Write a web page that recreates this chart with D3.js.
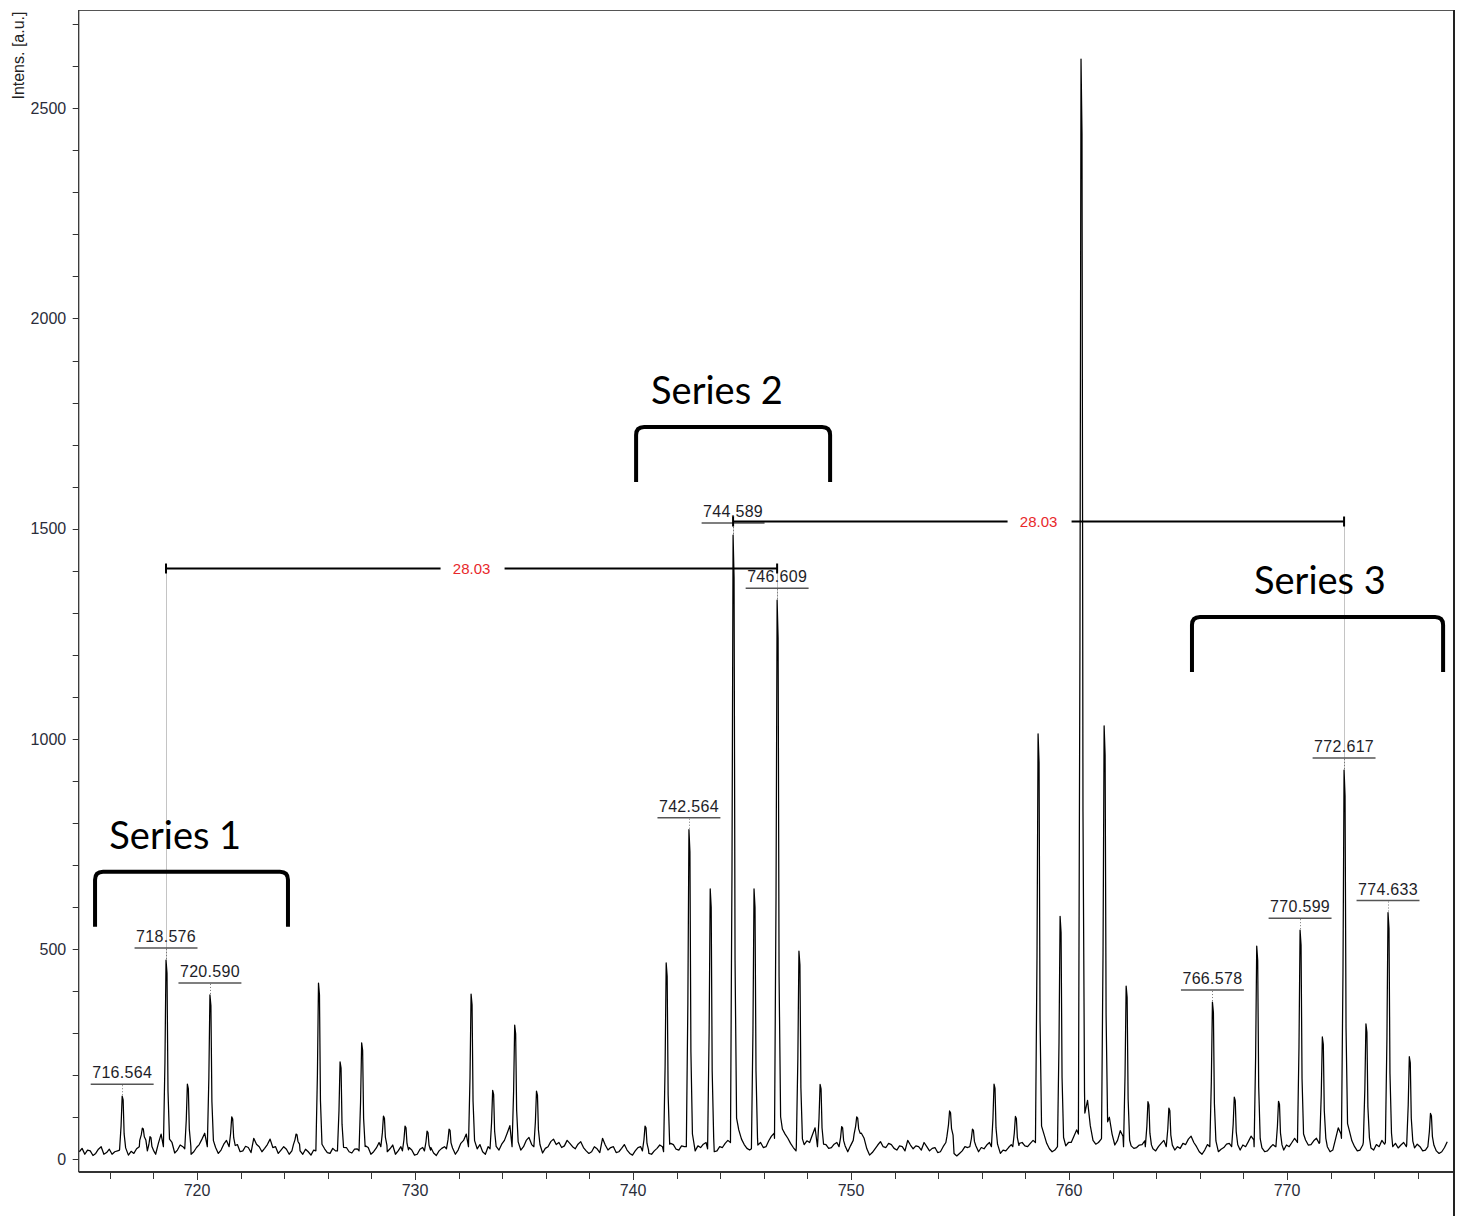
<!DOCTYPE html>
<html>
<head>
<meta charset="utf-8">
<script src="https://cdn.jsdelivr.net/npm/d3@7/dist/d3.min.js"></script>
<style>
  body { margin: 0; background: #fff; }
  svg { display: block; font-family: "Liberation Sans", Arial, sans-serif; }
</style>
</head>
<body>
<script>
// baseline / noise of the spectrum, one value every 0.125 m/z starting at 714.6
const BASE_START = 714.6;
const BASE_STEP = 0.125;
const baseline = [
  18, 26, 12, 22, 20, 9, 14, 24, 30, 12, 16, 24, 12, 18, 20, 11,
  22, 14, 10, 19, 14, 25, 30, 45, 40, 28, 20, 8, 12, 38, 60, 48,
  30, 20, 40, 15, 22, 34, 30, 20, 25, 12, 18, 28, 35, 48, 62, 55,
  30, 38, 28, 14, 22, 36, 45, 33, 30, 44, 35, 18, 20, 31, 28, 16,
  50, 36, 30, 18, 26, 35, 48, 28, 30, 14, 22, 30, 24, 12, 20, 27,
  35, 20, 12, 24, 18, 10, 22, 30, 20, 33, 25, 16, 14, 26, 20, 12,
  20, 10, 28, 18, 15, 24, 25, 14, 20, 32, 28, 12, 18, 27, 40, 28,
  30, 18, 25, 34, 12, 20, 30, 16, 20, 28, 22, 10, 12, 24, 28, 15,
  20, 28, 15, 9, 20, 26, 30, 18, 25, 34, 12, 22, 38, 45, 60, 50,
  30, 20, 25, 35, 18, 12, 30, 24, 25, 16, 22, 36, 45, 62, 80, 70,
  30, 40, 22, 30, 45, 52, 35, 24, 30, 20, 15, 26, 30, 42, 48, 35,
  40, 28, 32, 45, 38, 30, 25, 36, 42, 28, 20, 14, 18, 30, 25, 16,
  50, 34, 22, 28, 30, 16, 18, 26, 35, 22, 14, 10, 20, 28, 30, 18,
  20, 14, 12, 20, 26, 34, 30, 18, 25, 38, 35, 24, 22, 32, 30, 20,
  30, 16, 20, 32, 28, 36, 40, 26, 25, 18, 20, 30, 28, 38, 45, 36,
  40, 58, 70, 48, 35, 26, 22, 30, 25, 34, 40, 28, 30, 44, 55, 62,
  50, 66, 72, 60, 50, 38, 28, 20, 30, 26, 35, 44, 40, 58, 75, 60,
  30, 42, 35, 26, 28, 36, 40, 30, 30, 24, 18, 32, 45, 60, 70, 62,
  50, 25, 10, 16, 25, 34, 42, 30, 28, 38, 35, 26, 22, 32, 30, 20,
  45, 34, 25, 32, 30, 22, 40, 30, 20, 26, 28, 16, 18, 30, 40, 55,
  30, 14, 8, 14, 20, 30, 28, 40, 30, 22, 18, 28, 25, 34, 40, 30,
  30, 20, 14, 22, 20, 28, 35, 50, 30, 38, 40, 32, 30, 38, 45, 36,
  40, 52, 60, 38, 25, 18, 22, 32, 30, 24, 32, 40, 40, 55, 70, 64,
  60, 110, 140, 80, 45, 36, 40, 48, 50, 110, 100, 60, 34, 45, 68, 55,
  30, 40, 32, 26, 28, 34, 35, 44, 30, 28, 25, 20, 30, 38, 45, 34,
  30, 24, 22, 30, 26, 38, 35, 48, 55, 40, 30, 18, 12, 22, 35, 44,
  30, 26, 18, 24, 28, 36, 38, 30, 30, 20, 22, 34, 30, 42, 55, 46,
  30, 36, 27, 18, 20, 28, 35, 30, 30, 18, 22, 34, 30, 40, 50, 44,
  40, 52, 46, 34, 35, 44, 50, 38, 40, 30, 30, 18, 22, 48, 75, 60,
  50, 62, 70, 44, 30, 20, 22, 34, 40, 32, 27, 22, 35, 30, 45, 36,
  40, 28, 30, 38, 27, 34, 40, 30, 35, 24, 27, 36, 30, 20, 22, 30,
  30, 24, 20, 14, 18, 28, 42
];

// peak apexes
const peakMz = [
  716.564, 717.49, 717.84, 718.576, 719.555, 720.590, 721.59, 724.54,
  725.57, 726.56, 727.55, 728.55, 729.54, 730.55, 731.56, 732.57,
  733.56, 734.57, 735.57, 740.55, 741.52, 742.564, 743.54, 744.589,
  745.55, 746.609, 747.61, 748.58, 749.57, 750.26, 754.52, 755.57,
  756.56, 757.54, 758.58, 759.59, 760.55, 761.61, 762.62, 763.62,
  764.58, 766.578, 767.58, 768.61, 769.61, 770.599, 771.62, 772.617,
  773.62, 774.633, 775.61, 776.58
];
const peakIntensity = [
  150, 74, 54, 474, 179, 391, 101, 60,
  419, 232, 277, 103, 79, 67, 72, 393,
  164, 319, 162, 79, 467, 784, 643, 1485,
  643, 1330, 495, 178, 78, 101, 115, 72,
  179, 102, 1012, 578, 2617, 1031, 412, 137,
  122, 374, 148, 507, 138, 545, 291, 926,
  322, 587, 244, 109
];

const labelledPeaks = [716.564, 718.576, 720.590, 742.564, 744.589, 746.609,
  766.578, 770.599, 772.617, 774.633];

// distance markers: from, to, level (intensity)
const distFrom = [718.576, 744.589];
const distTo = [746.609, 772.617];
const distLevel = [1406, 1518];

const seriesNames = ['Series 1', 'Series 2', 'Series 3'];
const seriesFrom = [715.32, 740.14, 765.64];
const seriesTo = [724.17, 749.04, 777.16];
const seriesTop = [684, 1742, 1290];
const seriesTextMz = [719.0, 743.85, 771.51];

const xTicks = d3.range(716, 777, 2);
const yTicks = d3.range(0, 2701, 100);

const width = 1463, height = 1216;
const plotLeft = 78.7, plotRight = 1454, plotTop = 10, plotBottom = 1172;

// shape of a single peak: [m/z offset, fraction of height above local baseline]
const PEAK_PROFILE = [[-0.12, 0], [-0.05, 0.45], [0, 1], [0.045, 0.93], [0.09, 0.3], [0.16, 0.04]];

const x = d3.scaleLinear().domain([714.57, 777.66]).range([plotLeft, plotRight]);
const y = d3.scaleLinear().domain([-30.2, 2733.8]).range([plotBottom, plotTop]);

const svg = d3.select('body').append('svg')
    .attr('width', width)
    .attr('height', height);

svg.append('clipPath').attr('id', 'plot')
  .append('rect')
    .attr('x', plotLeft).attr('y', plotTop)
    .attr('width', plotRight - plotLeft).attr('height', plotBottom - plotTop);

// build the trace
const peaks = peakMz.map((mz, i) => ({ mz, h: peakIntensity[i] }));
const nearestBase = mz => {
    let i = Math.round((mz - BASE_START) / BASE_STEP);
    i = Math.max(0, Math.min(baseline.length - 1, i));
    return baseline[i];
};
let pts = baseline
    .map((v, i) => [BASE_START + i * BASE_STEP, v])
    .filter(([mz]) => !peaks.some(p => mz > p.mz - 0.13 && mz < p.mz + 0.17));
peaks.forEach(p => {
    const b = nearestBase(p.mz);
    PEAK_PROFILE.forEach(([dx, f]) => pts.push([p.mz + dx, b + f * (p.h - b)]));
});
pts.sort((a, b) => a[0] - b[0]);

// axes
const axisColor = '#2a2d3a';

const gy = svg.append('g');
gy.selectAll('line').data(yTicks).join('line')
    .attr('x1', plotLeft - 6).attr('x2', plotLeft)
    .attr('y1', d => Math.round(y(d)) + 0.5).attr('y2', d => Math.round(y(d)) + 0.5)
    .attr('stroke', '#333').attr('stroke-width', 1);
gy.selectAll('text').data(yTicks.filter(d => d % 500 === 0)).join('text')
    .attr('x', plotLeft - 12.5).attr('y', d => y(d))
    .attr('dy', '0.36em')
    .attr('text-anchor', 'end')
    .attr('font-size', 16)
    .attr('fill', axisColor)
    .text(d => d);

const gx = svg.append('g');
gx.selectAll('line').data(xTicks).join('line')
    .attr('x1', d => Math.round(x(d)) + 0.5).attr('x2', d => Math.round(x(d)) + 0.5)
    .attr('y1', plotBottom).attr('y2', d => d % 10 === 0 ? plotBottom + 8 : plotBottom + 7)
    .attr('stroke', '#333').attr('stroke-width', 1);
gx.selectAll('text').data(xTicks.filter(d => d % 10 === 0)).join('text')
    .attr('x', d => x(d)).attr('y', plotBottom + 24)
    .attr('text-anchor', 'middle')
    .attr('font-size', 16)
    .attr('fill', axisColor)
    .text(d => d);

svg.append('text')
    .attr('transform', `translate(23.5, 11.5) rotate(-90)`)
    .attr('text-anchor', 'end')
    .attr('font-size', 16)
    .attr('fill', '#222')
    .text('Intens. [a.u.]');

// frame
svg.append('line').attr('x1', plotLeft).attr('x2', plotRight).attr('y1', plotTop + 0.5).attr('y2', plotTop + 0.5)
    .attr('stroke', '#555').attr('stroke-width', 1);
svg.append('line').attr('x1', plotLeft).attr('x2', plotLeft).attr('y1', plotTop).attr('y2', plotBottom)
    .attr('stroke', '#333').attr('stroke-width', 1.3);
svg.append('line').attr('x1', plotLeft).attr('x2', plotRight).attr('y1', plotBottom).attr('y2', plotBottom)
    .attr('stroke', '#333').attr('stroke-width', 2);
svg.append('line').attr('x1', plotRight).attr('x2', plotRight).attr('y1', plotTop).attr('y2', height)
    .attr('stroke', '#222').attr('stroke-width', 2);

// guide lines of the distance markers
const peakH = mz => peaks.find(p => p.mz === mz).h;
distFrom.forEach((m1, i) => {
    const m2 = distTo[i];
    const y0 = y(distLevel[i]);
    [m1, m2].forEach(m => {
        svg.append('line')
            .attr('x1', Math.round(x(m)) + 0.5).attr('x2', Math.round(x(m)) + 0.5)
            .attr('y1', y0).attr('y2', y(peakH(m)))
            .attr('stroke', '#c4c4c4').attr('stroke-width', 1);
    });
});

// spectrum
svg.append('path')
    .datum(pts)
    .attr('clip-path', 'url(#plot)')
    .attr('fill', 'none')
    .attr('stroke', '#000')
    .attr('stroke-width', 1.25)
    .attr('stroke-linejoin', 'round')
    .attr('d', d3.line().x(d => x(d[0])).y(d => y(d[1])));

// peak labels
labelledPeaks.forEach(mz => {
    const px = x(mz), py = y(peakH(mz));
    const uy = py - 12;
    const t = svg.append('text')
        .attr('x', px).attr('y', uy - 6)
        .attr('text-anchor', 'middle')
        .attr('font-size', 16)
        .attr('letter-spacing', 0.3)
        .attr('fill', '#1e1e28')
        .text(mz.toFixed(3));
    const w = t.node().getComputedTextLength();
    svg.append('line')
        .attr('x1', px - w / 2 - 1.5).attr('x2', px + w / 2 + 1.5)
        .attr('y1', uy).attr('y2', uy)
        .attr('stroke', '#555').attr('stroke-width', 1.5);
    svg.append('line')
        .attr('x1', Math.round(px) + 0.5).attr('x2', Math.round(px) + 0.5)
        .attr('y1', uy + 1).attr('y2', py)
        .attr('stroke', '#777').attr('stroke-width', 1)
        .attr('stroke-dasharray', '1,2');
});

// distance markers
distFrom.forEach((m1, i) => {
    const m2 = distTo[i];
    const y0 = Math.round(y(distLevel[i])) + 0.5;
    const x1 = x(m1), x2 = x(m2), xm = (x1 + x2) / 2;
    const g = svg.append('g').attr('stroke', '#000').attr('stroke-width', 2);
    g.append('line').attr('x1', x1).attr('x2', xm - 31).attr('y1', y0).attr('y2', y0);
    g.append('line').attr('x1', xm + 33).attr('x2', x2).attr('y1', y0).attr('y2', y0);
    [x1, x2].forEach(xx => g.append('line')
        .attr('x1', xx).attr('x2', xx).attr('y1', y0 - 5).attr('y2', y0 + 5));
    svg.append('text')
        .attr('x', xm).attr('y', y0)
        .attr('dy', '0.36em')
        .attr('text-anchor', 'middle')
        .attr('font-size', 15)
        .attr('fill', '#e8282b')
        .text((m2 - m1).toFixed(2));
});

// series brackets
const LEG = 55, R = 8;
seriesNames.forEach((name, i) => {
    const x1 = x(seriesFrom[i]), x2 = x(seriesTo[i]), yt = y(seriesTop[i]);
    const p = d3.path();
    p.moveTo(x1, yt + LEG);
    p.lineTo(x1, yt + R);
    p.quadraticCurveTo(x1, yt, x1 + R, yt);
    p.lineTo(x2 - R, yt);
    p.quadraticCurveTo(x2, yt, x2, yt + R);
    p.lineTo(x2, yt + LEG);
    svg.append('path')
        .attr('d', p.toString())
        .attr('fill', 'none')
        .attr('stroke', '#000')
        .attr('stroke-width', 4);
    svg.append('text')
        .attr('x', x(seriesTextMz[i])).attr('y', yt - 23)
        .attr('text-anchor', 'middle')
        .attr('font-family', 'Lato, "Open Sans", sans-serif')
        .attr('font-size', 38)
        .attr('fill', '#000')
        .text(name);
});
</script>
</body>
</html>
